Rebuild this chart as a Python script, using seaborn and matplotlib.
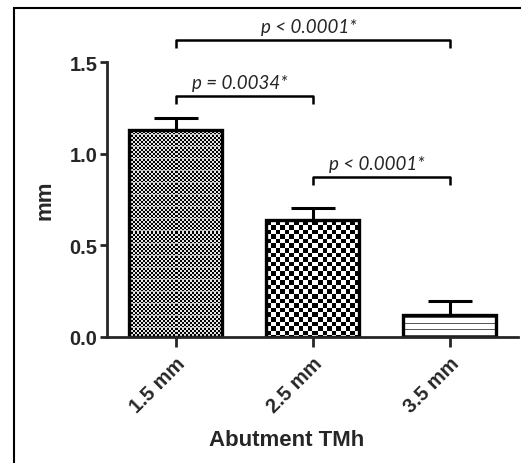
import numpy as np
import pandas as pd
import matplotlib
matplotlib.use("Agg")
import matplotlib.pyplot as plt
from matplotlib.patches import Rectangle
import seaborn as sns

categories = ["1.5 mm", "2.5 mm", "3.5 mm"]
means = [1.131, 0.638, 0.120]
errors = [0.064, 0.066, 0.078]
comparisons = [(0, 2, "p < 0.0001*", 1.622), (0, 1, "p = 0.0034*", 1.317), (1, 2, "p < 0.0001*", 0.875)]
y_ticks = [0.0, 0.5, 1.0, 1.5]
y_tick_labels = ["0.0", "0.5", "1.0", "1.5"]

sns.set_style("ticks")
plt.rcParams["font.family"] = ["Liberation Sans", "DejaVu Sans"]

W, H = 521, 464
fig = plt.figure(figsize=(W / 100, H / 100), dpi=100)
ax = fig.add_axes([107 / W, (H - 338) / H, (518 - 107) / W, (338 - 18) / H])

df = pd.DataFrame({"cat": categories, "val": means})
sns.barplot(data=df, x="cat", y="val", color="white", width=0.68,
            edgecolor="black", linewidth=2.4, errorbar=None, ax=ax)

ax.errorbar(range(len(categories)), means, yerr=[np.zeros(3), errors], fmt="none",
            ecolor="black", elinewidth=2.2, capsize=16, capthick=2.2, zorder=1.5)

ax.set_xlim(-0.5, 2.5)
ax.set_ylim(0, (338 - 18) / 183.3)
ax.set_yticks(y_ticks)
ax.set_yticklabels(y_tick_labels, fontsize=14.5, fontweight="bold")
ax.set_xticks(range(len(categories)))
ax.set_xticklabels(categories, fontsize=14.5, fontweight="bold", rotation=45,
                   ha="right", rotation_mode="anchor")
ax.set_xlabel("Abutment TMh", fontsize=16, fontweight="bold")
ax.set_ylabel("mm", fontsize=16, fontweight="bold")
ax.xaxis.set_label_coords((287 - 107) / 411, -(430 - 338) / 320)
ax.yaxis.set_label_coords((56 - 107) / 411, (338 - 200) / 320)
for s in ["top", "right"]:
    ax.spines[s].set_visible(False)
for s in ["left", "bottom"]:
    ax.spines[s].set_linewidth(2.0)
ax.spines["left"].set_bounds(0, 1.5)
ax.tick_params(axis="y", length=5, width=2.0, pad=2)
ax.tick_params(axis="x", length=7, width=2.0, pad=5)

# textures inside bars
fig.canvas.draw()
def pattern(kind, h, w):
    yy, xx = np.mgrid[0:h, 0:w]
    if kind == 0:
        a = ((yy // 2 + xx // 2) % 2).astype(float) * 0.9
        a[(yy % 12) == 5] = 0.75
    elif kind == 1:
        a = ((np.floor(yy / 4.6) + np.floor(xx / 4.6)) % 2).astype(float)
    else:
        a = np.ones((h, w))
        a[(yy % 6) == 2] = 0.35
    return a

for i, p in enumerate(ax.patches):
    bb = p.get_window_extent()
    h = max(int(round(bb.height)), 1)
    w = max(int(round(bb.width)), 1)
    x0, y0 = p.get_x(), p.get_y()
    arr = pattern(i, h, w)
    ax.imshow(arr, cmap="gray", vmin=0, vmax=1, interpolation="nearest",
              extent=(x0, x0 + p.get_width(), y0, y0 + p.get_height()),
              aspect="auto", zorder=0.9, origin="upper")
    p.set_facecolor("none")
    p.set_zorder(1.2)
ax.set_xlim(-0.5, 2.5)
ax.set_ylim(0, (338 - 18) / 183.3)

# significance brackets
for a, b, label, yb in comparisons:
    leg = 0.046
    ax.plot([a, a, b, b], [yb - leg, yb, yb, yb - leg], color="black", lw=1.8,
            clip_on=False, solid_capstyle="butt")
    ax.text((a + b) / 2 - 0.03, yb + 0.025, label, ha="center", va="bottom",
            fontsize=13.5, fontstyle="italic", family=["Lato", "DejaVu Sans"])

fig.add_artist(Rectangle((14 / W, -0.1), 1.2, (H - 9) / H + 0.1,
                         transform=fig.transFigure, fill=False, lw=1.5, ec="black"))

fig.savefig("out.png", dpi=100)
